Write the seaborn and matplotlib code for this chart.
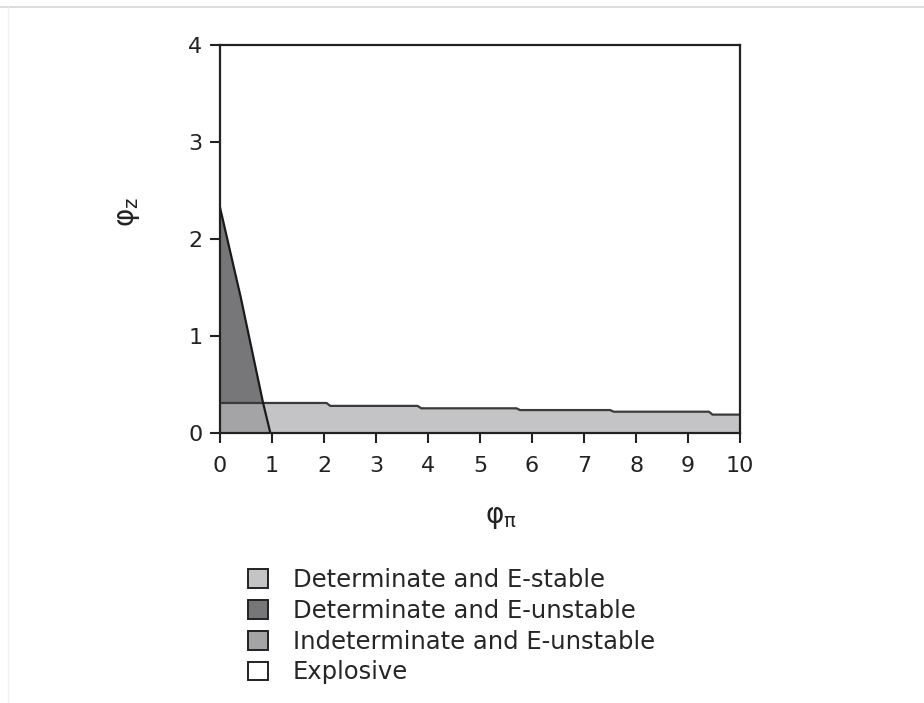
import matplotlib
matplotlib.use('Agg')
import matplotlib.pyplot as plt
import seaborn as sns
import pandas as pd
from matplotlib.lines import Line2D
from matplotlib.patches import Patch

# DATA
diag_pi = [0.0, 0.40, 0.83, 0.97]
diag_z = [2.33, 1.40, 0.31, 0.0]

band_pi = [0, 2.05, 2.12, 3.8, 3.87, 5.7, 5.77, 7.5, 7.57, 9.4, 9.47, 10]
band_z = [0.31, 0.31, 0.28, 0.28, 0.255, 0.255, 0.237, 0.237, 0.22, 0.22, 0.19, 0.19]

region_labels = ['Determinate and E-stable', 'Determinate and E-unstable',
                 'Indeterminate and E-unstable', 'Explosive']
region_colors = ['#c4c4c6', '#77777a', '#a4a4a6', '#ffffff']

x_ticks = list(range(0, 11))
y_ticks = [0, 1, 2, 3, 4]

sns.set_theme(style='white')
plt.rcParams['font.family'] = ['DejaVu Sans']
plt.rcParams['mathtext.fontset'] = 'dejavusans'

fig = plt.figure(figsize=(9.24, 7.03), dpi=100)
ax = fig.add_axes([0.238, 0.384, 0.563, 0.552])

# regions
ax.fill_between(band_pi, 0, band_z, color=region_colors[0], lw=0)
ax.fill_betweenx(diag_z, 0, diag_pi, color=region_colors[1], lw=0)
ax.fill_betweenx(diag_z[2:], 0, diag_pi[2:], color=region_colors[2], lw=0)

# boundaries
band = pd.DataFrame({'pi': band_pi, 'z': band_z})
diag = pd.DataFrame({'pi': diag_pi, 'z': diag_z})
sns.lineplot(data=band, x='pi', y='z', sort=False, color='#3a3a3a', lw=1.6, ax=ax)
sns.lineplot(data=diag, x='pi', y='z', sort=False, color='#1a1a1a', lw=1.6, ax=ax)

ax.set_xlim(0, 10)
ax.set_ylim(0, 4)
ax.set_xticks(x_ticks)
ax.set_yticks(y_ticks)
ax.tick_params(axis='both', direction='out', length=7.5, width=1.5,
               labelsize=16, colors='#222222', bottom=True, left=True)
ax.tick_params(axis='x', pad=9)
ax.tick_params(axis='y', pad=5)
for s in ax.spines.values():
    s.set_color('#222222')
    s.set_linewidth(1.6)

ax.set_xlabel(r'$\mathrm{\varphi}_{\mathrm{\pi}}$', fontsize=20, color='#222222')
ax.set_ylabel(r'$\mathrm{\varphi}_{\mathrm{z}}$', fontsize=20, color='#222222')
ax.xaxis.set_label_coords(0.54, -0.18)
ax.yaxis.set_label_coords(-0.15, 0.57)

handles = [Patch(facecolor=c, edgecolor='#222222', lw=1.4) for c in region_colors]
fig.legend(handles, region_labels, loc='upper left', bbox_to_anchor=(0.268, 0.192),
           frameon=False, fontsize=17.5, handlelength=0.82, handleheight=0.82,
           handletextpad=1.05, labelspacing=0.28, borderpad=0, borderaxespad=0)

fig.add_artist(Line2D([0, 1], [0.990, 0.990], color='#d4d4d4', lw=1.2))
fig.add_artist(Line2D([0.009, 0.009], [0, 0.990], color='#f0f0f0', lw=1.0))

fig.savefig('out.png', dpi=100, facecolor='white')
